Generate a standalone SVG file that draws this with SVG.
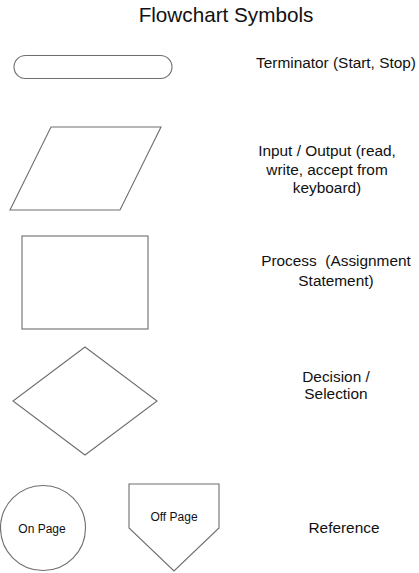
<svg xmlns="http://www.w3.org/2000/svg" width="419" height="573" viewBox="0 0 419 573">
<style>
.shape{fill:#fff;stroke:#6e6e6e;stroke-width:1.1}
.lbl{font-family:"Liberation Sans",Arial,sans-serif;font-size:15.4px;fill:#111;text-anchor:middle}
.in{font-family:"Liberation Sans",Arial,sans-serif;font-size:12px;fill:#111;text-anchor:middle}
.title{font-family:"Liberation Sans",Arial,sans-serif;font-size:20.7px;fill:#111;text-anchor:middle}
</style>
<rect width="419" height="573" fill="#fff"/>
<text class="title" x="226" y="22">Flowchart Symbols</text>
<g id="connectors"></g>
<g id="terminator">
<rect class="shape" x="14" y="55.5" width="158" height="23" rx="11.5" ry="11.5"/>
<text class="lbl" x="336" y="68">Terminator (Start, Stop)</text>
</g>
<g id="io">
<polygon class="shape" points="51,127 161,127 120,210 10,210"/>
<text class="lbl" x="327" y="156">Input / Output (read,</text>
<text class="lbl" x="327" y="175">write, accept from</text>
<text class="lbl" x="327" y="193">keyboard)</text>
</g>
<g id="process">
<rect class="shape" x="22" y="236" width="126" height="93"/>
<text class="lbl" x="336" y="266" xml:space="preserve">Process  (Assignment</text>
<text class="lbl" x="336" y="286">Statement)</text>
</g>
<g id="decision">
<polygon class="shape" points="85,347 157,401 85,455 13,401"/>
<text class="lbl" x="336" y="382">Decision /</text>
<text class="lbl" x="336" y="399">Selection</text>
</g>
<g id="onpage">
<circle class="shape" cx="43" cy="528" r="42.5"/>
<text class="in" x="42" y="533">On Page</text>
</g>
<g id="offpage">
<polygon class="shape" points="129,484 219,484 219,528 174,571 129,528"/>
<text class="in" x="174" y="521">Off Page</text>
</g>
<g id="reference">
<text class="lbl" x="344" y="533">Reference</text>
</g>
</svg>
